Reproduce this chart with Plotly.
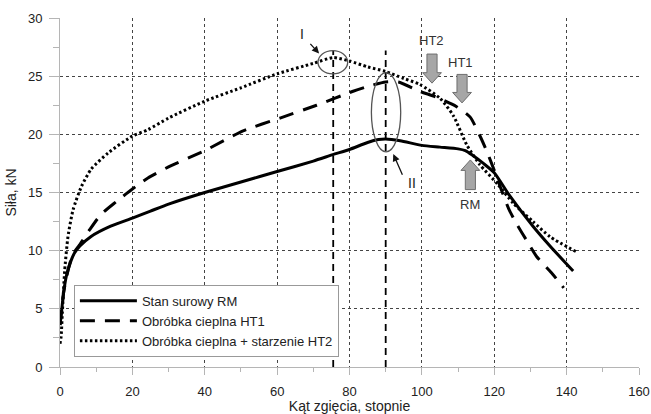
import plotly.graph_objects as go

# ---- data ----
rm_x = [0, 0.5, 1, 1.75, 3, 4, 5.5, 8.5, 14, 20, 25, 30, 40, 50, 60, 70, 75.4, 80, 85, 88, 90, 94,
        100, 105, 110, 112, 114, 117, 120, 124.3, 130.7, 135.4, 141.8]
rm_y = [3.6, 5.0, 6.4, 7.8, 9.1, 9.8, 10.4, 11.2, 12.1, 12.8, 13.4, 14.0, 15.0, 15.9, 16.8, 17.7, 18.25,
        18.7, 19.3, 19.55, 19.6, 19.45, 19.05, 18.9, 18.75, 18.6, 18.2, 17.5, 16.7, 14.7, 12.1, 10.4, 8.25]

ht1_x = [0, 0.5, 1, 2, 3, 4, 5.4, 8.2, 11.3, 15.5, 20, 24.3, 30, 40, 50.6, 60.8, 70.9, 81, 86, 90, 93.5,
         99.4, 104, 109.5, 113.3, 116, 118, 120, 122, 124, 126, 129.3, 131.7, 135.8, 139.2]
ht1_y = [3.6, 5.0, 6.4, 8.0, 9.2, 9.9, 10.5, 11.8, 13.1, 14.2, 15.3, 16.25, 17.2, 18.6, 20.3, 21.4, 22.5,
         23.7, 24.2, 24.5, 24.5, 23.7, 23.2, 22.4, 21.5, 19.9, 18.5, 16.9, 15.2, 13.6, 12.4, 10.7, 9.5, 8.1, 6.8]

ht2_x = [0, 0.3, 0.7, 1.3, 2.2, 3.6, 5.9, 8.6, 13.3, 20, 24.3, 30, 40, 50, 60, 70, 75.5, 80, 85, 90, 95,
         99.4, 105, 108.7, 112.4, 116, 121, 125.2, 130.7, 135.4, 142.7]
ht2_y = [2.0, 2.6, 5.0, 8.3, 11.2, 13.5, 15.5, 17.0, 18.4, 19.85, 20.4, 21.4, 22.85, 24.0, 25.2, 26.1, 26.6,
         26.3, 25.8, 25.4, 24.8, 24.3, 23.1, 21.6, 19.1, 17.4, 15.7, 14.1, 12.5, 11.2, 9.9]

series_names = ["Stan surowy RM", "Obróbka cieplna HT1", "Obróbka cieplna + starzenie HT2"]

x_ticks = [0, 20, 40, 60, 80, 100, 120, 140, 160]
y_ticks = [0, 5, 10, 15, 20, 25, 30]

# vertical reference lines (angles) and their top
ref_angles = [75.5, 90]
ref_top = 27.2

# ellipses: (x center, y center, x radius, y radius)
ell_cx = [75.4, 90.1]
ell_cy = [26.2, 21.9]
ell_rx = [4.1, 4.05]
ell_ry = [1.0, 3.4]

# pointer labels I / II: text, label pos, arrow tail, arrow tip
ptr_text = ["I", "II"]
ptr_lx = [67.0, 97.3]
ptr_ly = [28.6, 15.8]
ptr_tx = [68.8, 94.8]
ptr_ty = [27.9, 16.4]
ptr_hx = [71.6, 92.1]
ptr_hy = [26.95, 18.3]

# block arrows: label, label pos, center x, tail y, tip y
blk_text = ["HT2", "HT1", "RM"]
blk_lx = [102.7, 110.8, 113.4]
blk_ly = [28.1, 26.2, 14.0]
blk_cx = [102.8, 111.1, 113.4]
blk_tail = [26.9, 25.15, 15.25]
blk_tip = [24.4, 22.7, 17.8]

FONT = "Liberation Sans, Arial, sans-serif"

fig = go.Figure()
fig.add_trace(go.Scatter(x=rm_x, y=rm_y, mode="lines", name=series_names[0],
                         line=dict(color="black", width=3, shape="spline", smoothing=0.6)))
fig.add_trace(go.Scatter(x=ht1_x, y=ht1_y, mode="lines", name=series_names[1],
                         line=dict(color="black", width=3, dash="15px,10px", shape="spline", smoothing=0.6)))
fig.add_trace(go.Scatter(x=ht2_x, y=ht2_y, mode="lines", name=series_names[2],
                         line=dict(color="black", width=3, dash="2.5px,2.5px", shape="spline", smoothing=0.6)))

shapes = []
for a in ref_angles:
    shapes.append(dict(type="line", xref="x", yref="y", x0=a, x1=a, y0=0, y1=ref_top,
                       line=dict(color="black", width=1.8, dash="7px,5px"), layer="above"))
for cx, cy, rx, ry in zip(ell_cx, ell_cy, ell_rx, ell_ry):
    shapes.append(dict(type="circle", xref="x", yref="y", x0=cx - rx, x1=cx + rx, y0=cy - ry, y1=cy + ry,
                       line=dict(color="#555555", width=1.3), layer="above"))

bw, hw, hl = 1.4, 2.6, 0.9
for cx, yt, yp in zip(blk_cx, blk_tail, blk_tip):
    s = 1 if yp < yt else -1
    yn = yp + s * hl
    path = (f"M {cx-bw},{yt} L {cx+bw},{yt} L {cx+bw},{yn} L {cx+hw},{yn} L {cx},{yp} "
            f"L {cx-hw},{yn} L {cx-bw},{yn} Z")
    shapes.append(dict(type="path", xref="x", yref="y", path=path, fillcolor="#a6a6a6",
                       line=dict(color="#6e6e6e", width=1), layer="above"))

annotations = []
for t, lx, ly in zip(ptr_text, ptr_lx, ptr_ly):
    annotations.append(dict(x=lx, y=ly, xref="x", yref="y", text=t, showarrow=False,
                            font=dict(size=14, color="#222", family=FONT)))
for tx, ty, hx, hy in zip(ptr_tx, ptr_ty, ptr_hx, ptr_hy):
    annotations.append(dict(x=hx, y=hy, ax=tx, ay=ty, xref="x", yref="y", axref="x", ayref="y",
                            text="", showarrow=True, arrowhead=2, arrowsize=1.1, arrowwidth=1.3,
                            arrowcolor="#111"))
for t, lx, ly in zip(blk_text, blk_lx, blk_ly):
    annotations.append(dict(x=lx, y=ly, xref="x", yref="y", text=t, showarrow=False,
                            font=dict(size=13, color="#333", family=FONT)))

fig.update_layout(
    width=651, height=414,
    margin=dict(l=60, r=12, t=18, b=47),
    paper_bgcolor="white", plot_bgcolor="white",
    font=dict(family=FONT, size=13, color="#222"),
    shapes=shapes, annotations=annotations,
    showlegend=True,
    legend=dict(x=0.024, y=0.029, xanchor="left", yanchor="bottom",
                bgcolor="white", bordercolor="#999", borderwidth=1,
                font=dict(size=13, color="#222", family=FONT),
                itemwidth=57, tracegroupgap=0),
)
fig.update_xaxes(range=[0, 160], tickvals=x_ticks, showgrid=True, gridcolor="#444", griddash="dot",
                 gridwidth=1, zeroline=False, showline=True, linecolor="#b5b5b5", linewidth=1,
                 ticks="outside", ticklen=7, tickcolor="#b5b5b5", automargin=False,
                 minor=dict(dtick=10, ticks="outside", ticklen=4, tickcolor="#b5b5b5", showgrid=False),
                 ticklabelstandoff=5,
                 title=dict(text="Kąt zgięcia, stopnie", font=dict(size=14, color="#222"), standoff=6))
fig.update_yaxes(range=[0, 30], tickvals=y_ticks, showgrid=True, gridcolor="#444", griddash="dot",
                 gridwidth=1, zeroline=False, showline=True, linecolor="#b5b5b5", linewidth=1,
                 ticks="outside", ticklen=10, tickcolor="#b5b5b5", automargin=False,
                 minor=dict(dtick=2.5, ticks="outside", ticklen=6, tickcolor="#b5b5b5", showgrid=False),
                 ticklabelstandoff=4,
                 title=dict(text="Siła, kN", font=dict(size=14, color="#222"), standoff=8))

fig.write_html("out.html", config={"displayModeBar": False},
               post_script="document.body.style.margin='0';")
